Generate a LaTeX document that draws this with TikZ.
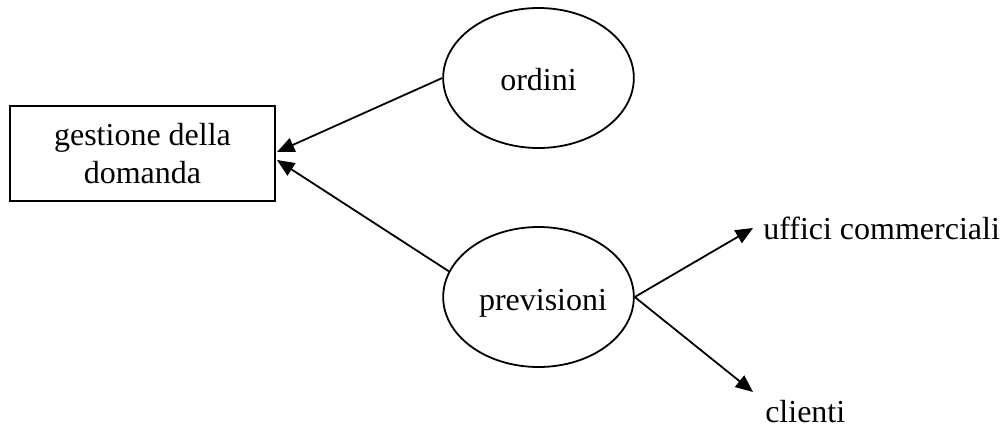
\documentclass[tikz,border=0pt]{standalone}
\usepackage{fontspec}
\setmainfont{Liberation Serif}
\usetikzlibrary{arrows.meta,shapes.geometric}
\begin{document}
\begin{tikzpicture}[x=0.75pt,y=-0.75pt,
  every node/.style={font=\fontsize{24}{28}\selectfont},
  conn/.style={line width=1.35pt,-{Triangle[length=13pt,width=11pt]}},
  boxnode/.style={draw,line width=1.35pt,minimum width=198.75pt,minimum height=71.25pt,inner sep=0pt,align=center},
  ell/.style={draw,ellipse,line width=1.35pt,minimum width=143pt,minimum height=105pt,inner sep=0pt}]
\useasboundingbox (0,0) rectangle (1005,429);
\node[boxnode] (gd) at (142.5,153.5) {gestione della\\domanda};
\node[ell] (ord) at (538.5,78) {};
\node (ordt) at (538.5,80) {ordini};
\node[ell] (prev) at (538.5,297) {};
\node (prevt) at (543,303) {previsioni};
\node[anchor=west,inner sep=0pt] (uff) at (763,228) {uffici commerciali};
\node[anchor=west,inner sep=0pt] (cli) at (765,412) {clienti};
\coordinate (t1) at (277,152);
\coordinate (t2) at (277,160);
\coordinate (t3) at (753,228);
\coordinate (t4) at (753,392);
\draw[conn] (ord.west) -- (t1);
\draw[conn] (prev.164) -- (t2);
\draw[conn] (prev.east) -- (t3);
\draw[conn] (prev.east) -- (t4);
\end{tikzpicture}
\end{document}
